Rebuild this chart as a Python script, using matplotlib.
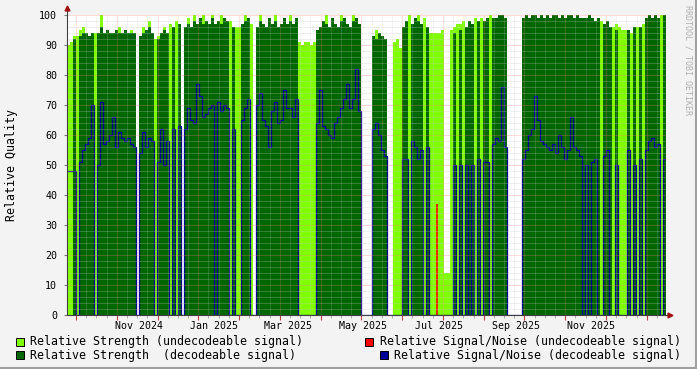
import numpy as np
import matplotlib
matplotlib.use("Agg")
import matplotlib.pyplot as plt
import matplotlib.dates as mdates
from matplotlib.patches import Rectangle
from datetime import datetime, timedelta

# one sample every 58 hours, first one on 2024-09-04 (0 = no data)
start = datetime(2024, 9, 4)
step_hours = 58

strength_undec = [
    90, 91, 93, 93, 95, 96, 0, 0, 0, 94,
    0, 100, 0, 0, 0, 0, 0, 96, 0, 0,
    0, 95, 0, 0, 0, 96, 0, 98, 0, 92,
    93, 0, 96, 0, 97, 0, 98, 0, 0, 0,
    99, 0, 100, 0, 0, 100, 0, 0, 100, 0,
    0, 100, 0, 0, 98, 0, 96, 96, 0, 100,
    0, 97, 0, 0, 100, 0, 0, 0, 0, 100,
    0, 0, 0, 0, 100, 0, 0, 91, 90, 91,
    91, 90, 91, 0, 0, 0, 100, 0, 0, 0,
    0, 100, 0, 0, 0, 100, 0, 0, 0, 0,
    0, 0, 0, 95, 0, 0, 0, 0, 0, 91,
    92, 89, 0, 0, 100, 0, 0, 100, 0, 99,
    0, 94, 94, 94, 94, 95, 14, 14, 95, 96,
    97, 97, 98, 0, 0, 0, 99, 0, 99, 0,
    0, 100, 0, 0, 0, 0, 0, 0, 0, 0,
    0, 0, 0, 0, 0, 0, 0, 0, 0, 0,
    0, 0, 0, 0, 0, 0, 0, 0, 0, 0,
    0, 0, 0, 0, 0, 0, 0, 0, 98, 0,
    0, 0, 96, 97, 96, 95, 95, 0, 94, 0,
    96, 0, 97, 0, 0, 0, 0, 0, 100, 0,
]

strength_dec = [
    0, 0, 92, 0, 93, 94, 94, 93, 94, 0,
    94, 96, 94, 95, 94, 94, 95, 94, 94, 95,
    94, 94, 94, 0, 93, 94, 95, 96, 94, 0,
    92, 94, 95, 94, 0, 96, 0, 97, 0, 96,
    97, 96, 98, 97, 99, 97, 98, 97, 99, 97,
    98, 97, 99, 98, 0, 96, 0, 0, 97, 98,
    99, 0, 0, 96, 98, 97, 96, 99, 97, 98,
    96, 97, 99, 97, 98, 97, 99, 0, 0, 0,
    0, 0, 0, 95, 96, 98, 97, 96, 99, 97,
    96, 98, 99, 97, 96, 98, 99, 97, 0, 0,
    0, 0, 93, 92, 94, 93, 92, 0, 0, 0,
    0, 0, 96, 98, 0, 97, 99, 98, 97, 0,
    96, 0, 0, 0, 0, 0, 0, 0, 0, 94,
    0, 95, 0, 96, 98, 97, 0, 98, 0, 98,
    99, 0, 99, 99, 100, 100, 99, 0, 0, 0,
    0, 0, 99, 100, 99, 100, 100, 99, 100, 99,
    100, 99, 100, 100, 99, 100, 99, 100, 100, 99,
    100, 99, 99, 99, 100, 99, 98, 99, 0, 97,
    98, 96, 0, 95, 0, 0, 0, 95, 0, 96,
    0, 96, 0, 99, 100, 99, 100, 99, 0, 100,
]

snr_dec = [
    48, 48, 48, 0, 51, 55, 57, 59, 70, 0,
    50, 71, 57, 58, 60, 66, 56, 61, 59, 58,
    59, 57, 56, 0, 54, 61, 56, 59, 58, 0,
    51, 62, 50, 58, 0, 62, 0, 63, 0, 62,
    69, 65, 64, 77, 73, 66, 67, 69, 70, 0,
    71, 68, 70, 69, 0, 62, 0, 0, 65, 69,
    72, 0, 0, 70, 74, 65, 63, 56, 68, 71,
    64, 65, 75, 69, 69, 66, 72, 0, 0, 0,
    0, 0, 0, 64, 75, 63, 62, 60, 59, 64,
    66, 69, 72, 77, 69, 72, 82, 68, 0, 0,
    0, 0, 62, 64, 60, 55, 53, 0, 0, 0,
    0, 0, 52, 52, 0, 58, 56, 52, 55, 0,
    56, 0, 0, 0, 0, 0, 0, 0, 0, 50,
    0, 50, 0, 50, 0, 50, 0, 52, 0, 51,
    51, 0, 57, 59, 58, 76, 56, 0, 0, 0,
    0, 0, 52, 55, 60, 62, 73, 65, 58, 57,
    56, 55, 57, 54, 60, 56, 52, 55, 66, 56,
    55, 53, 0, 50, 0, 51, 52, 0, 0, 53,
    55, 0, 0, 50, 0, 0, 0, 55, 0, 50,
    0, 52, 0, 55, 58, 59, 56, 57, 0, 52,
]

snr_undec = [0] * 123 + [37] + [0] * 76

month_ticks = ["2024-11-01", "2025-01-01", "2025-03-01", "2025-05-01",
               "2025-07-01", "2025-09-01", "2025-11-01"]
month_labels = ["Nov 2024", "Jan 2025", "Mar 2025", "May 2025",
                "Jul 2025", "Sep 2025", "Nov 2025"]

legend_labels = ["Relative Strength (undecodeable signal)",
                 "Relative Signal/Noise (undecodeable signal)",
                 "Relative Strength  (decodeable signal)",
                 "Relative Signal/Noise (decodeable signal)"]

LIGHT = "#80FF00"
DARK = "#006600"
RED = "#FF0000"
BLUE = "#000099"
legend_colors = [LIGHT, RED, DARK, BLUE]
MONO = "DejaVu Sans Mono"

W, H = 697, 369


def fx(px):
    return px / W


def fy(py):
    return 1 - py / H


fig = plt.figure(figsize=(W / 100, H / 100), dpi=100, facecolor="#F3F3F3")
ax = fig.add_axes([fx(67), fy(315), fx(666) - fx(67), fy(15) - fy(315)])
ax.set_facecolor("white")

n = len(strength_dec)
edges = mdates.date2num([start + timedelta(hours=step_hours * i) for i in range(n + 1)])
xs = np.repeat(edges, 2)[1:-1]
centers = (edges[:-1] + edges[1:]) / 2


def steps(vals):
    return np.repeat(np.asarray(vals, dtype=float), 2)


ax.fill_between(xs, 0, steps(strength_undec), color=LIGHT, lw=0, antialiased=False, zorder=1)
ax.fill_between(xs, 0, steps(strength_dec), color=DARK, lw=0, antialiased=False, zorder=1.1)
red = np.asarray(snr_undec, dtype=float)
ax.vlines(centers[red > 0], 0, red[red > 0], color=RED, lw=1.2, zorder=2)
ax.plot(xs, steps(snr_dec), color=BLUE, lw=0.9, zorder=2.1)

ax.set_xlim(edges[0], edges[-1])
ax.set_ylim(0, 100)

# grid on top of the data, like rrdtool
dot = (0, (1, 1))
for v in range(2, 101, 2):
    if v % 10:
        ax.axhline(v, color="#C8C8C8", lw=0.72, ls=dot, alpha=0.55, zorder=3)
    else:
        ax.axhline(v, color="#FF8080", lw=0.72, ls=dot, alpha=0.55, zorder=3)
grid_start = edges[0] + 7.25
major_grid = [grid_start + k * 32.9 for k in range(15)]
minor_grid = [g + m * 8.225 for g in major_grid for m in range(1, 4)]
minor_grid = [g for g in minor_grid if g < edges[-1]]
for g in major_grid:
    ax.axvline(g, color="#FF8080", lw=0.72, ls=dot, alpha=0.45, zorder=3)
for g in minor_grid:
    ax.axvline(g, color="#C8C8C8", lw=0.72, ls=dot, alpha=0.4, zorder=3)
# small tick marks under the time axis
ax.vlines(major_grid, -1.5, 0, color="#C04040", lw=0.8, clip_on=False, zorder=4)
ax.vlines(minor_grid, -1, 0, color="#A0A0A0", lw=0.6, clip_on=False, zorder=4)

for side in ["top", "right"]:
    ax.spines[side].set_visible(False)
for side in ["left", "bottom"]:
    ax.spines[side].set_color("#404040")
    ax.spines[side].set_linewidth(0.8)
    ax.spines[side].set_zorder(4)

ax.set_xticks(mdates.date2num([datetime.fromisoformat(d) for d in month_ticks]))
ax.set_xticklabels(month_labels, fontfamily=MONO, fontsize=7.2)
ax.tick_params(axis="x", length=0, pad=4)
ax.set_yticks(range(0, 101, 10))
ax.set_yticklabels([str(v) for v in range(0, 101, 10)], fontfamily=MONO, fontsize=7.2)
ax.tick_params(axis="y", length=2, pad=5, color="#808080")

# axis arrows
ax.plot([0, 0], [1, 1.02], color="#404040", lw=0.8, transform=ax.transAxes, clip_on=False)
ax.plot([0], [1.022], marker="^", ms=3.5, color="#A01010", transform=ax.transAxes, clip_on=False)
ax.plot([1, 1.006], [0, 0], color="#404040", lw=0.8, transform=ax.transAxes, clip_on=False)
ax.plot([1.007], [0], marker=">", ms=3.5, color="#A01010", transform=ax.transAxes, clip_on=False)

fig.text(fx(12), fy(165), "Relative Quality", rotation=90, ha="center", va="center",
         fontfamily=MONO, fontsize=8.4)
fig.text(fx(688), fy(5), "RRDTOOL / TOBI OETIKER", rotation=270, ha="center", va="top",
         fontfamily=MONO, fontsize=6, color="#B0B0B0")

# legend, two rows
box_x = [16, 365, 16, 380]
text_x = [30, 380, 30, 394]
row_y = [341.5, 341.5, 355, 355]
for i, label in enumerate(legend_labels):
    y = row_y[i]
    fig.add_artist(Rectangle((fx(box_x[i]), fy(y + 4)), 8 / W, 8 / H, transform=fig.transFigure,
                             facecolor=legend_colors[i], edgecolor="black", lw=0.7))
    fig.text(fx(text_x[i]), fy(y), label, ha="left", va="center", fontfamily=MONO, fontsize=8.4)

# rrdtool style shaded frame
fig.add_artist(plt.Line2D([0, 1], [fy(368), fy(368)], color="#A0A0A0", lw=1.5,
                          transform=fig.transFigure))
fig.add_artist(plt.Line2D([fx(696), fx(696)], [0, 1], color="#A0A0A0", lw=1.5,
                          transform=fig.transFigure))

fig.savefig("out.png", dpi=100, facecolor=fig.get_facecolor())
